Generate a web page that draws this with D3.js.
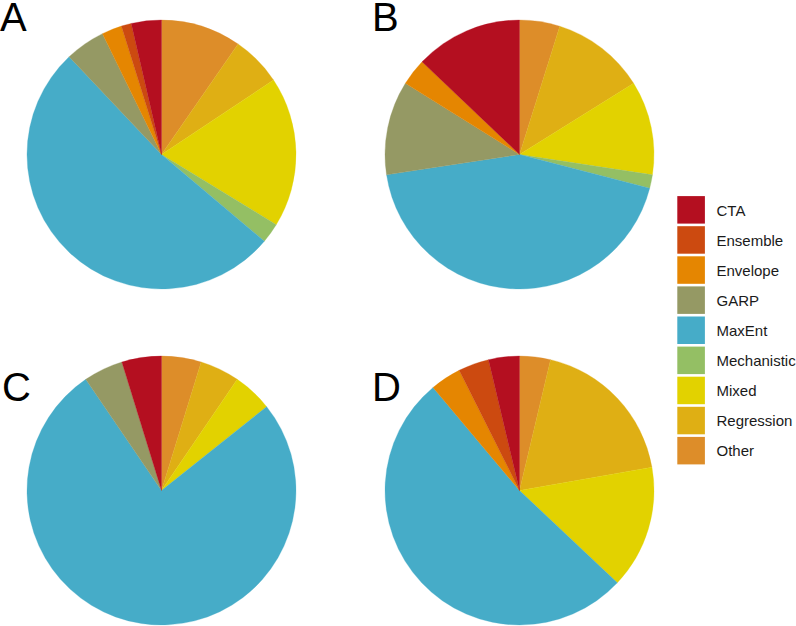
<!DOCTYPE html>
<html>
<head>
<meta charset="utf-8">
<script src="https://cdn.jsdelivr.net/npm/d3@7"></script>
<style>
  html, body { margin: 0; padding: 0; background: #ffffff; }
  svg { display: block; }
  text { font-family: "Liberation Sans", Arial, sans-serif; }
</style>
</head>
<body>
<svg id="chart" width="796" height="626"></svg>
<script>
// ---- data ----
const categories = ["CTA", "Ensemble", "Envelope", "GARP", "MaxEnt", "Mechanistic", "Mixed", "Regression", "Other"];
const colors = ["#B40F20", "#CC4A10", "#E58601", "#959964", "#46ACC8", "#94BF64", "#E2D200", "#DFAF14", "#DD8D29"];
const panelLabels = ["A", "B", "C", "D"];
const valuesA = [3, 1, 2, 4, 43, 2, 15, 5, 8];
const valuesB = [8, 0, 2, 7, 27, 1, 7, 7, 3];
const valuesC = [1, 0, 0, 1, 16, 0, 1, 1, 1];
const valuesD = [1, 1, 1, 0, 14, 0, 4, 5, 1];
const panelValues = [valuesA, valuesB, valuesC, valuesD];

// ---- layout ----
const svg = d3.select("#chart");
const color = d3.scaleOrdinal().domain(categories).range(colors);
const R = 134.5;
const cx = d3.scalePoint().domain([0, 1]).range([161.5, 519.5]);
const cy = d3.scalePoint().domain([0, 1]).range([154.5, 490.5]);
const labelPos = [[0, 31], [372, 31], [2, 401], [372, 401]];

const pie = d3.pie().sort(null).value(d => d.value);
const arc = d3.arc().innerRadius(0).outerRadius(R);

panelValues.forEach((vals, i) => {
  // ggplot polar stack: clockwise from top in reverse legend order
  const rows = categories.map((c, j) => ({ cat: c, value: vals[j] })).reverse();
  const g = svg.append("g")
    .attr("transform", `translate(${cx(i % 2)},${cy(Math.floor(i / 2))})`);
  g.selectAll("path")
    .data(pie(rows).filter(d => d.data.value > 0))
    .join("path")
    .attr("d", arc)
    .attr("fill", d => color(d.data.cat))
    .attr("stroke", d => color(d.data.cat))
    .attr("stroke-width", 0.3);

  svg.append("text")
    .attr("x", labelPos[i][0])
    .attr("y", labelPos[i][1])
    .attr("font-size", 40)
    .attr("fill", "#000")
    .text(panelLabels[i]);
});

// ---- legend ----
const ly = d3.scaleBand().domain(categories).range([194.8, 194.8 + 9 * 30.1]);
const legend = svg.append("g");
const items = legend.selectAll("g").data(categories).join("g")
  .attr("transform", d => `translate(0,${ly(d)})`);
items.append("rect")
  .attr("x", 677.3)
  .attr("y", 1.3)
  .attr("width", 27.6)
  .attr("height", 27.5)
  .attr("fill", d => color(d));
items.append("text")
  .attr("x", 716.5)
  .attr("y", ly.bandwidth() / 2 + 5.8)
  .attr("font-size", 15)
  .attr("fill", "#1a1a1a")
  .text(d => d);
</script>
</body>
</html>
